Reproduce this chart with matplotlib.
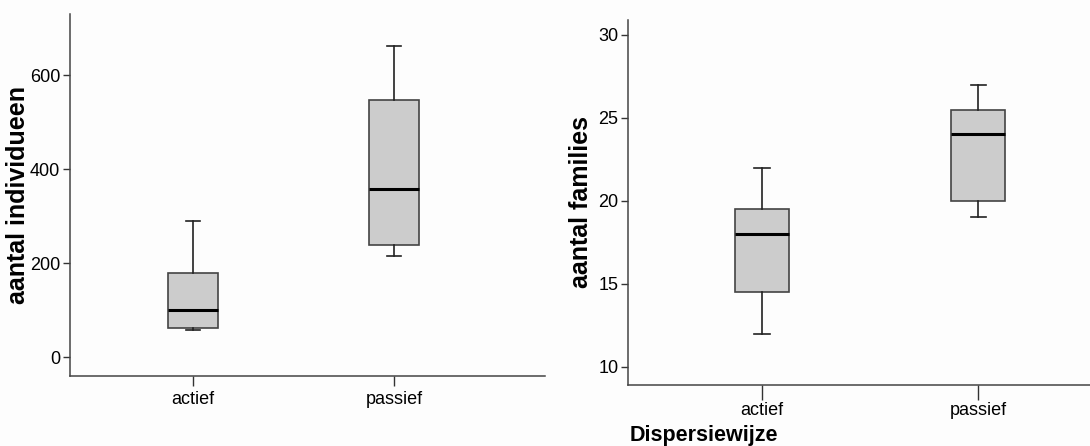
import matplotlib
matplotlib.use("Agg")
import matplotlib.pyplot as plt

plt.rcParams['font.family'] = ['Liberation Sans', 'DejaVu Sans']

categories = ["actief", "passief"]

# left panel: aantal individueen (whislo, q1, med, q3, whishi)
ind_whislo = [57, 215]
ind_q1 = [62, 238]
ind_med = [100, 358]
ind_q3 = [180, 548]
ind_whishi = [290, 662]

# right panel: aantal families
fam_whislo = [12, 19]
fam_q1 = [14.5, 20]
fam_med = [18, 24]
fam_q3 = [19.5, 25.5]
fam_whishi = [22, 27]

W, H = 1090, 446
fig = plt.figure(figsize=(W / 100, H / 100), dpi=100)
fig.patch.set_facecolor('#fdfdfd')


def make_stats(lo, q1, med, q3, hi):
    return [dict(whislo=lo[i], q1=q1[i], med=med[i], q3=q3[i], whishi=hi[i],
                 fliers=[], label=categories[i]) for i in range(len(categories))]


def draw(ax, stats, xlim, ylim, yticks, ylabel, xticklen, xpad, ylabelpad):
    ax.set_facecolor('#fdfdfd')
    ax.bxp(stats, positions=range(len(stats)), widths=0.25, patch_artist=True,
           showfliers=False, capwidths=0.07,
           boxprops=dict(facecolor='#cccccc', edgecolor='#444444', linewidth=1.2),
           medianprops=dict(color='black', linewidth=2.2),
           whiskerprops=dict(color='#222222', linewidth=1.2),
           capprops=dict(color='#222222', linewidth=1.2))
    ax.set_xlim(*xlim)
    ax.set_ylim(*ylim)
    ax.set_yticks(yticks)
    ax.set_xticks(range(len(categories)))
    ax.set_xticklabels(categories)
    for s in ['top', 'right']:
        ax.spines[s].set_visible(False)
    for s in ['left', 'bottom']:
        ax.spines[s].set_color('#444444')
        ax.spines[s].set_linewidth(1.1)
    ax.tick_params(axis='y', length=5, width=1, color='#333333', labelsize=13, pad=2)
    ax.tick_params(axis='x', length=xticklen, width=1, color='#333333', labelsize=13, pad=xpad)
    ax.set_ylabel(ylabel, fontsize=18, fontweight='bold', labelpad=ylabelpad)


ax1 = fig.add_axes([70 / W, (H - 376) / H, 475 / W, (376 - 14) / H])
draw(ax1, make_stats(ind_whislo, ind_q1, ind_med, ind_q3, ind_whishi),
     (-0.612, 1.752), (-40, 730), [0, 200, 400, 600], "aantal individueen", 7, 4, 0)

ax2 = fig.add_axes([628 / W, (H - 385) / H, 462 / W, (385 - 20) / H])
draw(ax2, make_stats(fam_whislo, fam_q1, fam_med, fam_q3, fam_whishi),
     (-0.62, 1.517), (8.9, 30.9), [10, 15, 20, 25, 30], "aantal families", 11, 1, 4)
ax2.set_xlabel("Dispersiewijze", fontsize=15.5, fontweight='bold')
ax2.xaxis.set_label_coords(2 / 462, -51 / 365)
ax2.xaxis.label.set_horizontalalignment('left')
ax2.xaxis.label.set_verticalalignment('center')

fig.savefig("out.png", dpi=100, facecolor=fig.get_facecolor())
